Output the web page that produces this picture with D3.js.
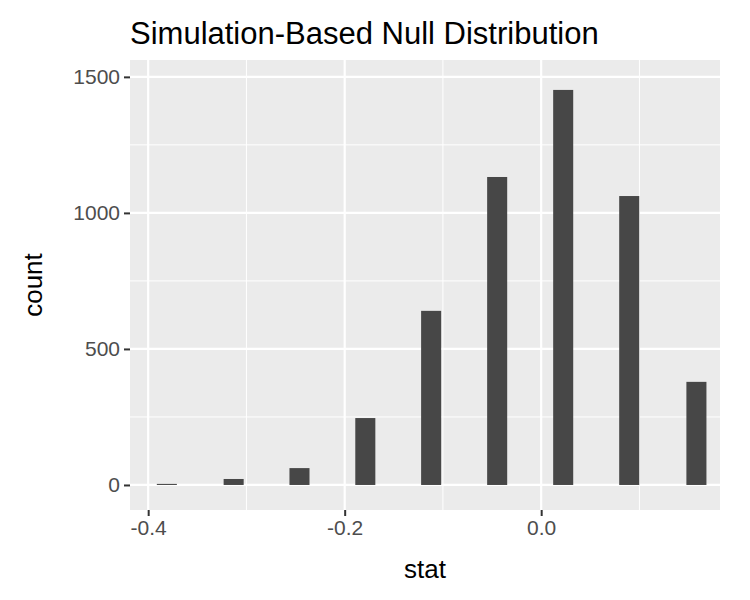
<!DOCTYPE html>
<html>
<head>
<meta charset="utf-8">
<script src="https://cdn.jsdelivr.net/npm/d3@7"></script>
<style>
body { margin: 0; background: #fff; }
text { font-family: "Liberation Sans", Arial, sans-serif; }
</style>
</head>
<body>
<div id="chart"></div>
<script>
var stats = [-0.381, -0.313, -0.246, -0.179, -0.112, -0.0448, 0.0224, 0.0896, 0.158];
var counts = [4, 22, 62, 246, 640, 1132, 1452, 1062, 379];
var xTicks = [-0.4, -0.2, 0.0];
var xMinor = [-0.3, -0.1, 0.1];
var yTicks = [0, 500, 1000, 1500];
var yMinor = [250, 750, 1250];

var w = 750, h = 600;
var pLeft = 130, pRight = 720, pTop = 60, pBottom = 510;
var barW = 0.0204;

var x = d3.scaleLinear().domain([-0.4185, 0.1820]).range([pLeft, pRight]);
var y = d3.scaleLinear().domain([-92, 1562]).range([pBottom, pTop]);

var svg = d3.select("#chart").append("svg").attr("width", w).attr("height", h);

svg.append("rect").attr("x", pLeft).attr("y", pTop)
    .attr("width", pRight - pLeft).attr("height", pBottom - pTop).attr("fill", "#ebebeb");

// minor grid
svg.selectAll(".xm").data(xMinor).enter().append("line")
    .attr("x1", d => x(d)).attr("x2", d => x(d)).attr("y1", pTop).attr("y2", pBottom)
    .attr("stroke", "#fff").attr("stroke-width", 1);
svg.selectAll(".ym").data(yMinor).enter().append("line")
    .attr("y1", d => y(d)).attr("y2", d => y(d)).attr("x1", pLeft).attr("x2", pRight)
    .attr("stroke", "#fff").attr("stroke-width", 1);
// major grid
svg.selectAll(".xg").data(xTicks).enter().append("line")
    .attr("x1", d => x(d)).attr("x2", d => x(d)).attr("y1", pTop).attr("y2", pBottom)
    .attr("stroke", "#fff").attr("stroke-width", 2.2);
svg.selectAll(".yg").data(yTicks).enter().append("line")
    .attr("y1", d => y(d)).attr("y2", d => y(d)).attr("x1", pLeft).attr("x2", pRight)
    .attr("stroke", "#fff").attr("stroke-width", 2.2);

// bars
svg.selectAll(".bar").data(stats).enter().append("rect")
    .attr("x", d => x(d - barW / 2))
    .attr("width", x(barW) - x(0))
    .attr("y", (d, i) => y(counts[i]))
    .attr("height", (d, i) => y(0) - y(counts[i]))
    .attr("fill", "#474747");

// axes
var xa = svg.append("g").attr("transform", "translate(0," + pBottom + ")")
    .call(d3.axisBottom(x).tickValues(xTicks).tickSize(6).tickPadding(4)
        .tickFormat(d => d.toFixed(1)));
var ya = svg.append("g").attr("transform", "translate(" + pLeft + ",0)")
    .call(d3.axisLeft(y).tickValues(yTicks).tickSize(6).tickPadding(4).tickFormat(d => String(d)));
[xa, ya].forEach(function(a) {
    a.select(".domain").remove();
    a.selectAll(".tick line").attr("stroke", "#333").attr("stroke-width", 2);
    a.selectAll(".tick text").attr("fill", "#4d4d4d").style("font-size", "21px")
        .style("font-family", "'Liberation Sans', Arial, sans-serif");
});

svg.append("text").attr("x", (pLeft + pRight) / 2).attr("y", 578)
    .attr("text-anchor", "middle").style("font-size", "26px").text("stat");
svg.append("text").attr("transform", "translate(42," + ((pTop + pBottom) / 2) + ") rotate(-90)")
    .attr("text-anchor", "middle").style("font-size", "26px").text("count");
svg.append("text").attr("x", pLeft).attr("y", 44)
    .style("font-size", "31px").text("Simulation-Based Null Distribution");
</script>
</body>
</html>
